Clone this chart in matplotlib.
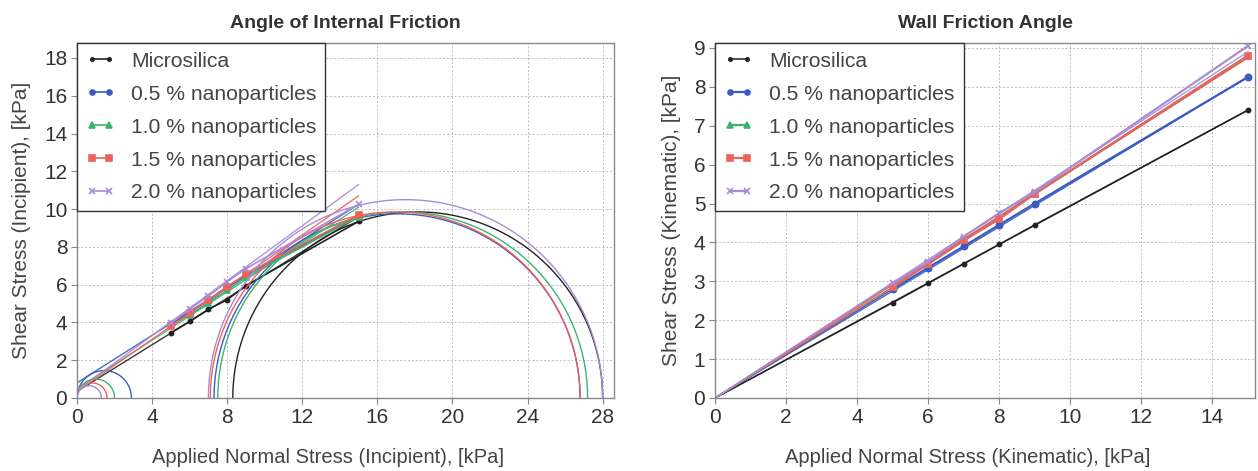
import numpy as np
import matplotlib
matplotlib.use("Agg")
import matplotlib.pyplot as plt

plt.rcParams['font.family'] = ['Liberation Sans', 'DejaVu Sans']

labels = ["Microsilica", "0.5 % nanoparticles", "1.0 % nanoparticles",
          "1.5 % nanoparticles", "2.0 % nanoparticles"]
colors = ["#222222", "#3a5cbf", "#3cb46e", "#f0605c", "#a98bd6"]
markers = [".", "o", "^", "s", "x"]
msizes = [6, 4.5, 5, 5, 5]

x_pts = [5, 6, 7, 8, 9, 15]

# Angle of internal friction: measured points
yif = [
    [3.45, 4.05, 4.70, 5.20, 5.95, 9.35],
    [3.90, 4.55, 5.15, 5.85, 6.50, 9.65],
    [3.85, 4.40, 5.05, 5.70, 6.40, 9.60],
    [3.80, 4.50, 5.20, 5.90, 6.55, 9.70],
    [3.95, 4.70, 5.40, 6.15, 6.85, 10.25],
]
# yield locus lines: (intercept at 0, value at 15)
yl_start = [0.35, 0.80, 0.50, 0.35, 0.40]
yl_end = [9.60, 10.25, 10.10, 10.70, 11.30]
# small Mohr circles (0 -> sigma)
small_lo = [0.0, 0.0, 0.0, 0.0, 0.0]
small_hi = [0.0, 2.90, 2.00, 1.60, 1.30]
# large Mohr circles
large_lo = [8.30, 7.30, 7.50, 7.10, 7.00]
large_hi = [28.00, 26.80, 27.20, 26.80, 28.00]

# Wall friction angle
ywf = [
    [2.45, 2.95, 3.45, 3.95, 4.45, 7.40],
    [2.80, 3.35, 3.90, 4.45, 5.00, 8.25],
    [2.85, 3.45, 4.05, 4.65, 5.25, 8.80],
    [2.85, 3.45, 4.05, 4.60, 5.25, 8.80],
    [2.95, 3.50, 4.15, 4.75, 5.30, 9.05],
]
wf_fit_end = [7.40, 8.25, 8.75, 8.75, 8.90]

fig = plt.figure(figsize=(12.58, 4.71), dpi=100)
ax1 = fig.add_axes([0.0612, 0.155, 0.4268, 0.754])
ax2 = fig.add_axes([0.5684, 0.155, 0.4292, 0.754])

tick_col = "#333333"
spine_col = "#888888"

def style(ax):
    ax.grid(True, color="#bbbbbb", linestyle=(0, (2, 2)), linewidth=0.7)
    ax.set_axisbelow(True)
    for s in ax.spines.values():
        s.set_color(spine_col)
        s.set_linewidth(1.0)
    ax.tick_params(axis='both', labelsize=15, colors=tick_col, length=4,
                   color=spine_col, direction='out', pad=3)

theta = np.linspace(0, np.pi, 300)
for i in range(5):
    c = colors[i]
    # yield locus
    ax1.plot([0, 15], [yl_start[i], yl_end[i]], color=c, lw=1.0, alpha=0.9)
    # small circle
    if small_hi[i] > small_lo[i]:
        cc = (small_lo[i] + small_hi[i]) / 2
        r = (small_hi[i] - small_lo[i]) / 2
        ax1.plot(cc + r * np.cos(theta), r * np.sin(theta), color=c, lw=1.0)
    cc = (large_lo[i] + large_hi[i]) / 2
    r = (large_hi[i] - large_lo[i]) / 2
    ax1.plot(cc + r * np.cos(theta), r * np.sin(theta), color=c, lw=1.0)
    # measured points
    ax1.plot(x_pts, yif[i], color=c, lw=1.2, marker=markers[i], ms=msizes[i],
             mew=1.2, label=labels[i])

    # wall friction
    ax2.plot([0, 15], [0, wf_fit_end[i]], color=c, lw=1.0, alpha=0.9)
    ax2.plot([0] + x_pts[:1], [0, ywf[i][0]], color=c, lw=1.0)
    ax2.plot(x_pts, ywf[i], color=c, lw=1.6 if i else 1.1, marker=markers[i],
             ms=msizes[i], mew=1.2, label=labels[i])

ax1.set_xlim(0, 28.6)
ax1.set_ylim(0, 18.8)
ax1.set_xticks(np.arange(0, 29, 4))
ax1.set_yticks(np.arange(0, 19, 2))
ax2.set_xlim(0, 15.2)
ax2.set_ylim(0, 9.13)
ax2.set_xticks(np.arange(0, 15, 2))
ax2.set_yticks(np.arange(0, 10, 1))

for ax, title, xl, yl in [
        (ax1, "Angle of Internal Friction", "Applied Normal Stress (Incipient), [kPa]",
         "Shear Stress (Incipient), [kPa]"),
        (ax2, "Wall Friction Angle", "Applied Normal Stress (Kinematic), [kPa]",
         "Shear Stress (Kinematic), [kPa]")]:
    style(ax)
    ax.set_title(title, fontsize=14, fontweight='bold', color="#333333", pad=11)
    ax.set_xlabel(xl, fontsize=14.5, color="#444444")
    ax.xaxis.set_label_coords(0.468, -0.142)
    ax.set_ylabel(yl, fontsize=15, color="#444444", labelpad=9)
    leg = ax.legend(loc='upper left', fontsize=15.2, frameon=True, fancybox=False,
                    borderaxespad=0.0, handlelength=1.4, handletextpad=0.75,
                    labelspacing=0.66, borderpad=0.42, numpoints=2,
                    markerscale=0.8)
    leg.get_frame().set_edgecolor("#333333")
    leg.get_frame().set_linewidth(1.0)
    leg.get_frame().set_alpha(1.0)
    for t in leg.get_texts():
        t.set_color("#444444")

fig.savefig("out.png", dpi=100)
